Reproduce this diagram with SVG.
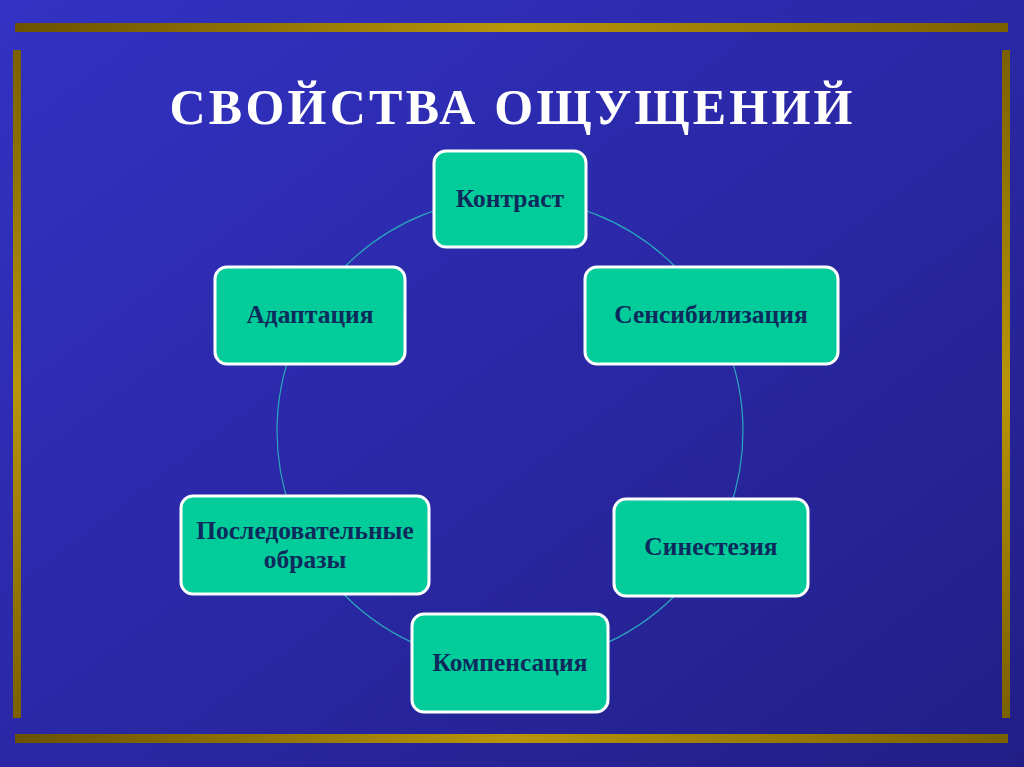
<svg xmlns="http://www.w3.org/2000/svg" width="1024" height="767" viewBox="0 0 1024 767">
<defs>
<linearGradient id="bg" x1="0" y1="0" x2="1" y2="1">
<stop offset="0" stop-color="#3232c4"/>
<stop offset="1" stop-color="#221e86"/>
</linearGradient>
<linearGradient id="goldH" x1="0" y1="0" x2="1" y2="0">
<stop offset="0" stop-color="#6a5200"/>
<stop offset="0.5" stop-color="#b8950a"/>
<stop offset="1" stop-color="#7a6000"/>
</linearGradient>
<linearGradient id="goldV" x1="0" y1="0" x2="0" y2="1">
<stop offset="0" stop-color="#7a6000"/>
<stop offset="0.5" stop-color="#b8950a"/>
<stop offset="1" stop-color="#7a6000"/>
</linearGradient>
<style>
.node rect{fill:#03cc9b;stroke:#ffffff;stroke-width:3}
.node text{font-family:"Liberation Serif",serif;font-weight:bold;font-size:25.5px;fill:#0d2a5c;text-anchor:middle}
</style>
</defs>
<rect width="1024" height="767" fill="url(#bg)"/>
<rect x="15" y="23" width="993" height="9" fill="url(#goldH)"/>
<rect x="15" y="734" width="993" height="9" fill="url(#goldH)"/>
<rect x="13" y="50" width="8" height="668" fill="url(#goldV)"/>
<rect x="1002" y="50" width="8" height="668" fill="url(#goldV)"/>
<text x="511" y="124" font-family="'Liberation Serif',serif" font-weight="bold" font-size="50" fill="#ffffff" text-anchor="middle" textLength="683" lengthAdjust="spacing">СВОЙСТВА ОЩУЩЕНИЙ</text>
<g id="connectors">
<circle cx="510" cy="431" r="233" fill="none" stroke="#2aa6bc" stroke-width="1.2"/>
</g>
<g id="n1" class="node"><rect x="434" y="151" width="152" height="96" rx="12"/><text x="510" y="207">Контраст</text></g>
<g id="n2" class="node"><rect x="585" y="267" width="253" height="97" rx="12"/><text x="711" y="323">Сенсибилизация</text></g>
<g id="n3" class="node"><rect x="614" y="499" width="194" height="97" rx="12"/><text x="711" y="555">Синестезия</text></g>
<g id="n4" class="node"><rect x="412" y="614" width="196" height="98" rx="12"/><text x="510" y="671">Компенсация</text></g>
<g id="n5" class="node"><rect x="181" y="496" width="248" height="98" rx="12"/><text x="305" y="539">Последовательные</text><text x="305" y="568">образы</text></g>
<g id="n6" class="node"><rect x="215" y="267" width="190" height="97" rx="12"/><text x="310" y="323">Адаптация</text></g>
</svg>
